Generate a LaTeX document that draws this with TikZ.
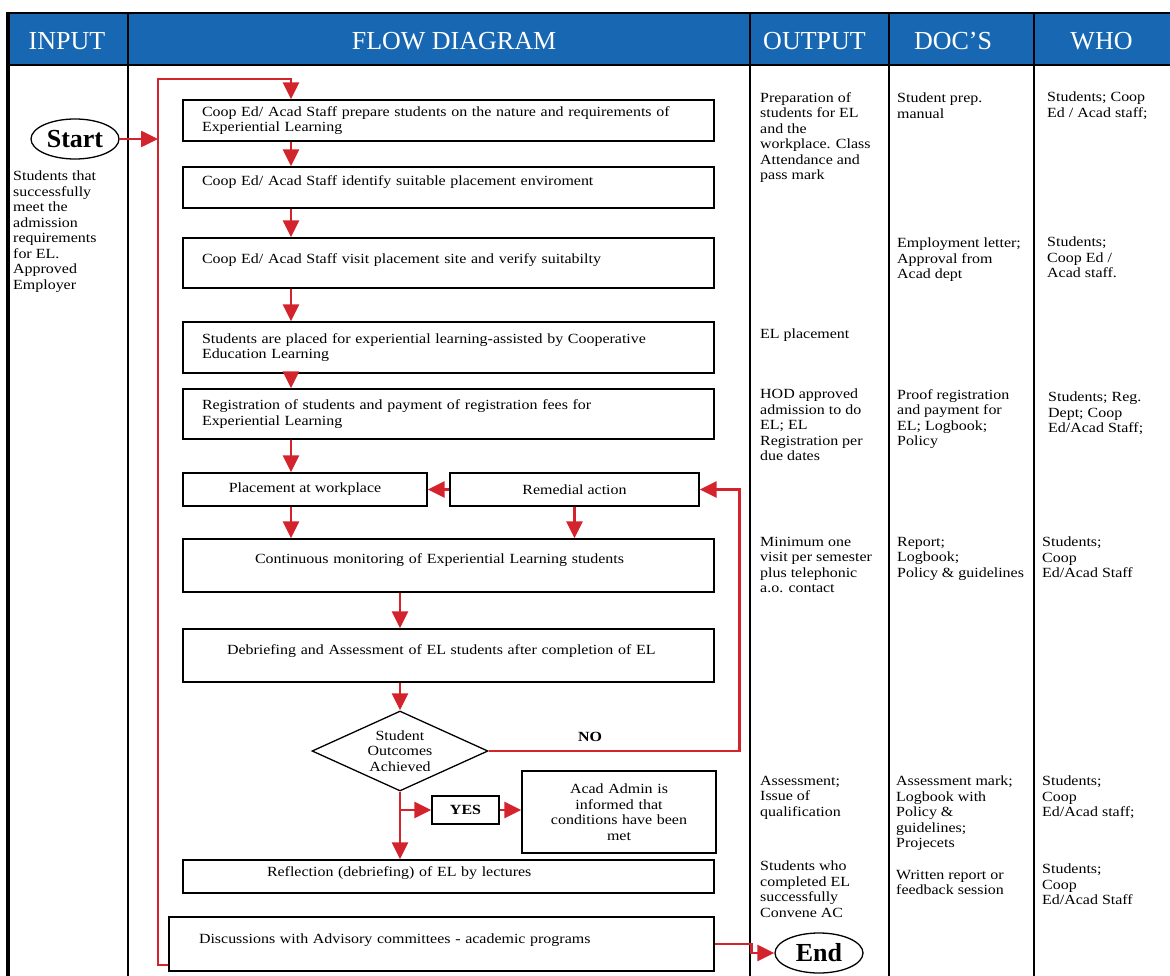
\documentclass[tikz,border=0pt]{standalone}
\usepackage{fontspec}
\setmainfont{Liberation Serif}[FakeStretch=1.14]
\newfontfamily\hdrfont{Liberation Serif}
\usetikzlibrary{shapes.geometric, arrows.meta}
\definecolor{hdrblue}{RGB}{23,103,178}
\definecolor{flowred}{RGB}{211,36,46}
\newcommand{\bodyfont}{\fontsize{14}{15.5}\selectfont}
\newcommand{\bigfont}{\hdrfont\fontsize{26}{28}\selectfont}
\tikzset{
  flowbox/.style={draw, line width=1.3pt, font=\bodyfont, inner ysep=3pt},
  widebox/.style={flowbox, minimum width=531pt, align=left},
  lift/.style={text height=10pt, text depth=#1},
  terminal/.style={ellipse, draw, line width=1.3pt, minimum width=88pt, minimum height=40pt, inner sep=0pt, font=\bigfont\bfseries},
  coltext/.style={anchor=north west, inner sep=0pt, align=left, font=\bodyfont},
  hdr/.style={anchor=base, text=white, font=\bigfont},
  flowarrow/.style={draw=flowred, line width=2.6pt, -{Triangle[length=17pt,width=16pt]}},
}
\begin{document}
\begin{tikzpicture}[x=1pt,y=-1pt]
\useasboundingbox (0,0) rectangle (1170,976);
\fill[hdrblue] (8,13) rectangle (1172,65);
\draw[line width=1.6pt] (8,65) -- (1172,65);
\foreach \x in {128,750,889,1034} \draw[line width=1.6pt] (\x,13) -- (\x,980);
\draw[line width=2.8pt] (8,13) -- (1172,13);
\draw[line width=3.4pt] (8,12) -- (8,980);
\node[hdr] (hinput) at (67,50) {INPUT};
\node[hdr] (hflow) at (454,50) {FLOW DIAGRAM};
\node[hdr] (houtput) at (814.5,50) {OUTPUT};
\node[hdr] (hdocs) at (953,50) {DOC’S};
\node[hdr] (hwho) at (1101.5,50) {WHO};

\node[terminal] (start) at (75,139) {Start};
\node[coltext] (input) at (13,171) {Students that\\successfully\\meet the\\admission\\requirements\\for EL.\\Approved\\Employer};

\node[widebox, minimum height=41pt, text width=493pt, inner xsep=19pt] (b1) at (448.5,120.5) {Coop Ed/ Acad Staff prepare students on the nature and requirements of\\Experiential Learning};
\node[widebox, lift=13pt, minimum height=41pt, text width=493pt, inner xsep=19pt] (b2) at (448.5,187.5) {Coop Ed/ Acad Staff identify suitable placement enviroment};
\node[widebox, lift=8pt, minimum height=50pt, text width=493pt, inner xsep=19pt] (b3) at (448.5,263) {Coop Ed/ Acad Staff visit placement site and verify suitabilty};
\node[widebox, minimum height=51pt, text width=493pt, inner xsep=19pt] (b4) at (448.5,347.5) {Students are placed for experiential learning-assisted by Cooperative\\Education Learning};
\node[widebox, minimum height=50pt, text width=493pt, inner xsep=19pt] (b5) at (448.5,414) {Registration of students and payment of registration fees for\\Experiential Learning};
\node[flowbox, minimum width=244pt, minimum height=33pt] (place) at (305,489.5) {Placement at workplace};
\node[flowbox, minimum width=249pt, minimum height=33pt] (remedial) at (574.5,489.5) {Remedial action};
\node[widebox, lift=15pt, minimum height=53pt, text width=387pt, inner xsep=72pt] (cont) at (448.5,565.5) {Continuous monitoring of Experiential Learning students};
\node[widebox, lift=13pt, minimum height=53pt, text width=443pt, inner xsep=44pt] (debr) at (448.5,655.5) {Debriefing and Assessment of EL students after completion of EL};
\node[draw, diamond, aspect=2.2, line width=1.3pt, inner sep=0pt, minimum width=176pt, minimum height=80pt, align=center, font=\bodyfont] (dec) at (400,751) {Student\\Outcomes\\Achieved};
\node[font=\bodyfont\bfseries] (nolbl) at (590,737) {NO};
\node[flowbox, minimum width=67pt, minimum height=28pt, font=\bodyfont\bfseries] (yes) at (465.5,810) {YES};
\node[flowbox, minimum width=194pt, minimum height=82pt, text width=180pt, align=center] (admin) at (619,812) {Acad Admin is\\informed that\\conditions have been\\met};
\node[widebox, lift=11pt, minimum height=33pt, text width=363pt, inner xsep=84pt] (refl) at (448.5,876.5) {Reflection (debriefing) of EL by lectures};
\node[widebox, lift=12pt, minimum width=545pt, minimum height=54pt, text width=485pt, inner xsep=30pt] (disc) at (441.5,944) {Discussions with Advisory committees - academic programs};
\node[terminal] (endnode) at (819,953) {End};

\node[coltext] (o1) at (760,92) {Preparation of\\students for EL\\and the\\workplace. Class\\Attendance and\\pass mark};
\node[coltext] (o2) at (760,329) {EL placement};
\node[coltext] (o3) at (760,389) {HOD approved\\admission to do\\EL; EL\\Registration per\\due dates};
\node[coltext] (o4) at (760,537) {Minimum one\\visit per semester\\plus telephonic\\a.o. contact};
\node[coltext] (o5) at (760,776) {Assessment;\\Issue of\\qualification};
\node[coltext] (o6) at (760,861) {Students who\\completed EL\\successfully\\Convene AC};
\node[coltext] (d1) at (897,93) {Student prep.\\manual};
\node[coltext] (d2) at (897,238) {Employment letter;\\Approval from\\Acad dept};
\node[coltext] (d3) at (897,389) {Proof registration\\and payment for\\EL; Logbook;\\Policy};
\node[coltext] (d4) at (897,537) {Report;\\Logbook;\\Policy \& guidelines};
\node[coltext] (d5) at (896,776) {Assessment mark;\\Logbook with\\Policy \&\\guidelines;\\Projecets};
\node[coltext] (d6) at (896,870) {Written report or\\feedback session};
\node[coltext] (w1) at (1047,92) {Students; Coop\\Ed / Acad staff;};
\node[coltext] (w2) at (1047,237) {Students;\\Coop Ed /\\Acad staff.};
\node[coltext] (w3) at (1048,392) {Students; Reg.\\Dept; Coop\\Ed/Acad Staff;};
\node[coltext] (w4) at (1042,537) {Students;\\Coop\\Ed/Acad Staff};
\node[coltext] (w5) at (1042,776) {Students;\\Coop\\Ed/Acad staff;};
\node[coltext] (w6) at (1042,864) {Students;\\Coop\\Ed/Acad Staff};

\coordinate (looptop) at (291,79);
\coordinate (loopcorner) at (158,79);
\draw[flowarrow] ([yshift=-21pt]disc.west) -| (loopcorner) -- (looptop) -- (b1.north -| looptop);
\draw[flowarrow] (start.east) -- (start.east -| loopcorner);
\foreach \a/\b in {b1/b2,b2/b3,b3/b4,b4/b5,b5/place,place/cont}
  \draw[flowarrow] (\a.south -| looptop) -- (\b.north -| looptop);
\draw[flowarrow] (remedial.west) -- (place.east);
\draw[flowarrow] (remedial.south) -- (remedial.south |- cont.north);
\draw[flowarrow] (cont.south -| dec.north) -- (debr.north -| dec.north);
\draw[flowarrow] (debr.south -| dec.north) -- (dec.north);
\draw[flowarrow] (dec.east) -- ++(251,0) |- (remedial.east);
\draw[flowarrow] (dec.south) -- (dec.south |- refl.north);
\draw[flowarrow] (dec.south |- yes.west) -- (yes.west);
\draw[flowarrow] (yes.east) -- (yes.east -| admin.west);
\draw[flowarrow] (disc.east) -- ++(37,0) |- (endnode.west);
\end{tikzpicture}
\end{document}
